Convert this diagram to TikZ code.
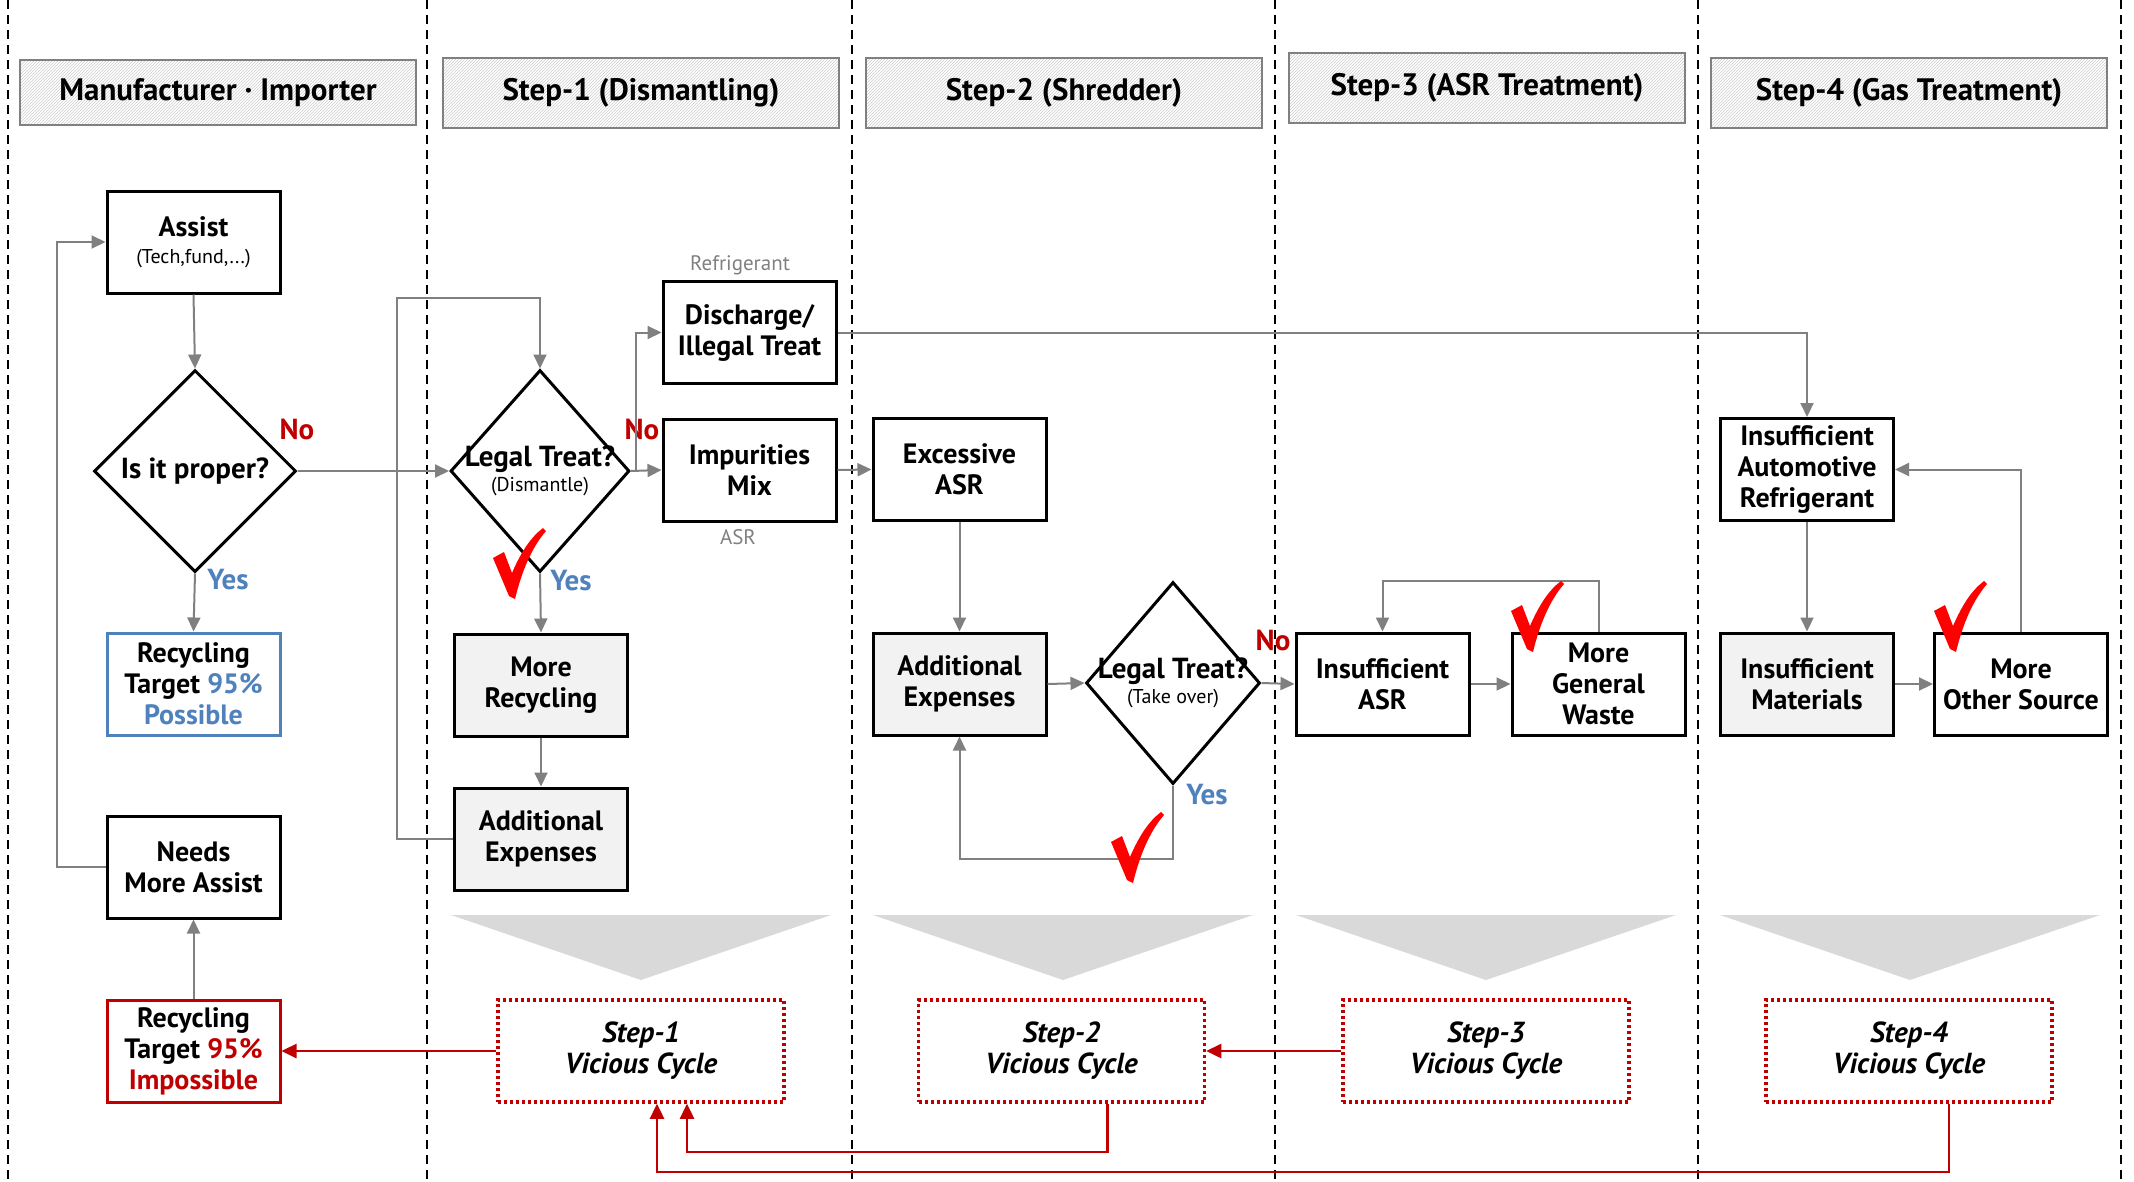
\documentclass[tikz,border=0pt]{standalone}
\usepackage{fontspec}
\setmainfont{PT Sans}
\usetikzlibrary{arrows.meta,shapes.geometric,patterns}

\definecolor{linegrey}{RGB}{128,128,128}
\definecolor{darkred}{RGB}{192,0,0}
\definecolor{yesblue}{RGB}{79,129,189}
\definecolor{boxgrey}{RGB}{242,242,242}
\definecolor{trigrey}{RGB}{217,217,217}
\definecolor{tickred}{RGB}{255,0,0}

\tikzset{every picture/.style={line width=2pt}}
\tikzset{
  box/.style={draw=black,line width=3pt,minimum width=173pt,minimum height=102pt,inner sep=0pt,align=center,font=\bfseries\fontsize{28}{31}\selectfont},
  greybox/.style={box,fill=boxgrey},
  decide/.style={diamond,draw=black,line width=3pt,inner sep=0pt,minimum width=#1,minimum height=202pt,align=center,font=\bfseries\fontsize{29}{31}\selectfont},
  header/.style={draw=linegrey,line width=1.5pt,pattern=north east lines,pattern color=gray!40,minimum width=396pt,minimum height=70pt,inner sep=0pt,font=\bfseries\fontsize{31}{34}\selectfont},
  vicious/.style={draw=darkred,line width=3.5pt,dash pattern=on 3pt off 3pt,minimum width=286pt,minimum height=102pt,inner sep=0pt,align=center,font=\bfseries\itshape\fontsize{29}{31}\selectfont},
  conn/.style={draw=linegrey,line width=2pt,-{Triangle[length=14pt,width=13pt]}},
  redconn/.style={draw=darkred,line width=2.5pt,-{Triangle[length=15pt,width=14pt]}},
  nolabel/.style={text=darkred,font=\bfseries\fontsize{29}{31}\selectfont},
  yeslabel/.style={text=yesblue,font=\bfseries\fontsize{29}{31}\selectfont},
  small/.style={text=linegrey,font=\fontsize{21}{24}\selectfont},
  redtick/.pic={\fill[tickred] (0,-30) -- (11,-24) -- (19,-45) .. controls (28,-24) and (38,-9) .. (50,0) -- (53,-3) .. controls (41,-17) and (30,-38) .. (22,-71) -- (16,-68) -- cycle;}
}
\newcommand{\overhang}[1]{\makebox[0pt]{#1}}
\newcommand{\subnote}[1]{\makebox[0pt]{\normalfont\fontsize{20}{24}\selectfont #1}}

\begin{document}
\begin{tikzpicture}[x=1pt,y=1pt,yscale=-1,xscale=1]
\useasboundingbox (0,0) rectangle (2134,1181);

%lanes
\foreach \lx in {8,427,852,1275,1698,2121}
  \draw[black,line width=1.5pt,dash pattern=on 9pt off 6pt] (\lx,0) -- (\lx,1181);

%headers
\node[header,minimum width=396pt,minimum height=65pt] (hmaker) at (218,92.5) {Manufacturer · Importer};
\node[header] (hstep1) at (641,93) {Step-1 (Dismantling)};
\node[header] (hstep2) at (1064,93) {Step-2 (Shredder)};
\node[header] (hstep3) at (1487,88) {Step-3 (ASR Treatment)};
\node[header] (hstep4) at (1909,93) {Step-4 (Gas Treatment)};

%manufacturer lane
\node[box] (assist) at (193.5,242) {Assist\\[-4pt]\subnote{(Tech,fund,...)}};
\node[decide=202pt] (proper) at (195,471) {\overhang{Is it proper?}};
\node[box,draw=yesblue] (possible) at (193.5,684) {Recycling\\Target \textcolor{yesblue}{95\%}\\\textcolor{yesblue}{Possible}};
\node[box] (needs) at (193.5,867) {Needs\\More Assist};
\node[box,draw=darkred] (impossible) at (193.5,1051) {Recycling\\Target \textcolor{darkred}{95\%}\\\textcolor{darkred}{Impossible}};
\node[nolabel] (no1) at (297,429) {No};
\node[yeslabel] (yes1) at (228,580) {Yes};
\coordinate (back) at (57,242);

%step 1
\node[decide=179pt] (legal1) at (540,471) {\overhang{Legal Treat?}\\[-6pt]\subnote{(Dismantle)}};
\node[greybox] (morerec) at (541,685) {More\\Recycling};
\node[greybox] (addexp1) at (541,839) {Additional\\Expenses};
\node[box] (discharge) at (749.5,332.5) {Discharge/\\Illegal Treat};
\node[box] (impure) at (749.5,470) {Impurities\\Mix};
\node[small] (refr) at (740,265) {Refrigerant};
\node[small] (asr) at (738,537) {ASR};
\node[nolabel] (no2) at (642,429) {No};
\node[yeslabel] (yes2) at (571,581) {Yes};
\coordinate (loop1) at (397,298);

%step 2
\node[box] (excess) at (959.5,469.5) {Excessive\\ASR};
\node[greybox] (addexp2) at (959.5,684) {Additional\\Expenses};
\node[decide=174pt] (legal2) at (1173,683) {\overhang{Legal Treat?}\\[-6pt]\subnote{(Take over)}};
\node[nolabel] (no3) at (1273,640) {No};
\node[yeslabel] (yes3) at (1207,795) {Yes};

%step 3
\node[box] (insasr) at (1382.5,684) {Insufficient\\ASR};
\node[box] (general) at (1598.5,684) {More\\General\\Waste};

%step 4
\node[box] (autoref) at (1807,469.5) {Insufficient\\Automotive\\Refrigerant};
\node[greybox] (material) at (1807,684) {Insufficient\\Materials};
\node[box] (other) at (2021,684) {More\\Other Source};

%connectors
\draw[conn] (assist.south) -- (proper.north);
\draw[conn] (proper.south) -- (possible.north);
\draw[conn] (needs.west) -| (back) -- (assist.west);
\draw[conn] (impossible.north) -- (needs.south);
\draw[conn] (addexp1.west) -| (loop1) -| (legal1.north);
\draw[conn] (proper.east) -- (legal1.west);
\draw[conn] ([xshift=5pt]legal1.east) |- (discharge.west);
\draw[conn] (legal1.east) -- (impure.west);
\draw[conn] (legal1.south) -- (morerec.north);
\draw[conn] (morerec.south) -- (addexp1.north);
\draw[conn] (discharge.east) -| (autoref.north);
\draw[conn] (impure.east) -- (excess.west);
\draw[conn] (excess.south) -- (addexp2.north);
\draw[conn] (addexp2.east) -- (legal2.west);
\draw[conn] (legal2.south) -- ++(0,73) -| (addexp2.south);
\draw[conn] (legal2.east) -- (insasr.west);
\draw[conn] (insasr.east) -- (general.west);
\draw[conn] (general.north) -- ++(0,-51) -| (insasr.north);
\draw[conn] (autoref.south) -- (material.north);
\draw[conn] (material.east) -- (other.west);
\draw[conn] (other.north) |- (autoref.east);

%ticks
\pic at (493,528) {redtick};
\pic at (1111,812) {redtick};
\pic at (1511,581) {redtick};
\pic at (1934,581) {redtick};

%funnels
\foreach \cx in {641,1063,1486,1910}
  \fill[trigrey] (\cx-190,915) -- (\cx+190,915) -- (\cx,980) -- cycle;

%vicious cycles
\node[vicious] (vic1) at (641,1051) {Step-1\\Vicious Cycle};
\node[vicious] (vic2) at (1061.5,1051) {Step-2\\Vicious Cycle};
\node[vicious] (vic3) at (1486,1051) {Step-3\\Vicious Cycle};
\node[vicious] (vic4) at (1909,1051) {Step-4\\Vicious Cycle};

\draw[redconn] (vic1.west) -- (impossible.east);
\draw[redconn] (vic3.west) -- (vic2.east);
\draw[redconn] ([xshift=46pt]vic2.south) -- ++(0,48) -| ([xshift=46pt]vic1.south);
\draw[redconn] ([xshift=40pt]vic4.south) -- ++(0,68) -| ([xshift=16pt]vic1.south);

\end{tikzpicture}
\end{document}
